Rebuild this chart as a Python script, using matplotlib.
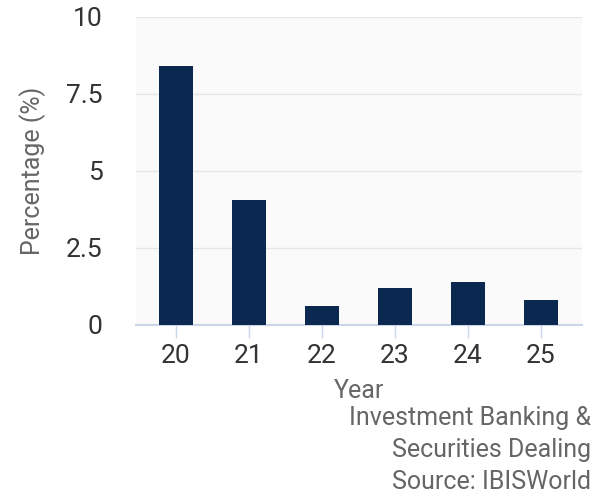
import matplotlib.pyplot as plt

years = ['20', '21', '22', '23', '24', '25']
values = [8.4, 4.05, 0.6, 1.2, 1.4, 0.8]
yticks = [0, 2.5, 5, 7.5, 10]
yticklabels = ['0', '2.5', '5', '7.5', '10']

plt.rcParams['font.family'] = ['Roboto', 'DejaVu Sans']

fig = plt.figure(figsize=(6.04, 4.93), dpi=100)
ax = fig.add_axes([0.225, 0.341, 0.739, 0.625])
ax.set_facecolor('#fafafa')

x = range(len(years))
ax.bar(x, values, width=0.47, color='#0b2850', zorder=3)

ax.set_xlim(-0.55, 5.57)
ax.set_ylim(0, 10)
ax.set_yticks(yticks)
ax.set_yticklabels(yticklabels)
ax.set_xticks(list(x))
ax.set_xticklabels(years)

ax.grid(axis='y', color='#e6e6e6', linewidth=1, zorder=0)
for s in ['top', 'right', 'left']:
    ax.spines[s].set_visible(False)
ax.spines['bottom'].set_color('#ccd6eb')
ax.spines['bottom'].set_linewidth(1.5)

ax.tick_params(axis='y', length=0, pad=24, labelsize=19, labelcolor='#333333')
ax.tick_params(axis='x', length=9, width=1, color='#ccd6eb', pad=5,
               labelsize=19, labelcolor='#333333')

ax.set_ylabel('Percentage (%)', fontsize=18, color='#666666', labelpad=14)
ax.set_xlabel('Year', fontsize=18, color='#666666', labelpad=8)

fig.text(0.978, 0.152, 'Investment Banking &', ha='right', va='center',
         fontsize=18, color='#666666')
fig.text(0.978, 0.087, 'Securities Dealing', ha='right', va='center',
         fontsize=18, color='#666666')
fig.text(0.978, 0.022, 'Source: IBISWorld', ha='right', va='center',
         fontsize=18, color='#666666')

plt.savefig('out.png', dpi=100)
